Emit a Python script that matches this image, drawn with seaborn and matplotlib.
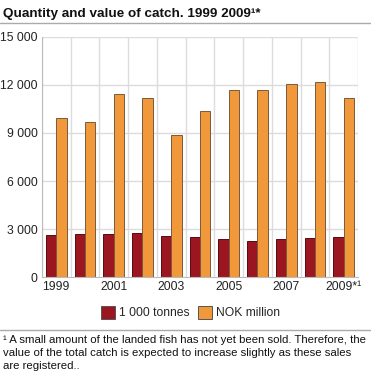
import matplotlib.pyplot as plt
import matplotlib.ticker as ticker
from matplotlib.lines import Line2D
from matplotlib.patches import Patch
import pandas as pd
import seaborn as sns

years = ["1999", "2000", "2001", "2002", "2003", "2004", "2005", "2006", "2007", "2008", "2009"]
year_labels = ["1999", "", "2001", "", "2003", "", "2005", "", "2007", "", "2009*¹"]
tonnes = [2630, 2710, 2690, 2730, 2545, 2525, 2400, 2275, 2400, 2440, 2525]
nok = [9920, 9710, 11410, 11160, 8850, 10400, 11660, 11660, 12040, 12170, 11160]
series = ["1 000 tonnes", "NOK million"]

df = pd.DataFrame(
    {
        "year": years * 2,
        "value": tonnes + nok,
        "kind": [series[0]] * len(years) + [series[1]] * len(years),
    }
)

sns.set_style("white")
plt.rcParams["font.family"] = ["Liberation Sans", "DejaVu Sans"]

fig = plt.figure(figsize=(3.71, 3.76), dpi=100)
ax = fig.add_axes([0.113, 0.263, 0.852, 0.639])

colors = {series[0]: "#9b1620", series[1]: "#f0983a"}
sns.barplot(
    data=df,
    x="year",
    y="value",
    hue="kind",
    palette=colors,
    saturation=1,
    width=0.72,
    gap=0,
    ax=ax,
    legend=False,
)
for bar in ax.patches[: len(years)]:
    bar.set_edgecolor("#5a0a10")
    bar.set_linewidth(0.7)
for bar in ax.patches[len(years):]:
    bar.set_edgecolor("#7a5a3a")
    bar.set_linewidth(0.7)

ax.set_ylim(0, 15000)
ax.set_xlim(-0.5, len(years) - 0.5)
ax.yaxis.set_major_locator(ticker.MultipleLocator(3000))
ax.yaxis.set_major_formatter(ticker.FuncFormatter(lambda v, p: f"{int(v):,}".replace(",", " ")))
ax.set_xticks(range(len(years)))
ax.set_xticklabels(year_labels)
ax.set_xlabel("")
ax.set_ylabel("")
ax.tick_params(axis="both", length=0, labelsize=8.7, colors="#222222", pad=3)

# grid: horizontal at ticks, vertical between categories
for v in range(3000, 15001, 3000):
    ax.axhline(v, color="#dcdcdc", lw=1, zorder=0)
for i in range(len(years) + 1):
    ax.axvline(i - 0.5, color="#dcdcdc", lw=1, zorder=0)
for s in ["top", "right"]:
    ax.spines[s].set_visible(False)
ax.spines["left"].set_color("#bbbbbb")
ax.spines["bottom"].set_color("#bbbbbb")

fig.text(0.008, 0.963, "Quantity and value of catch. 1999 2009¹*", fontsize=9.7,
         fontweight="bold", va="center", ha="left", color="#111111")
fig.add_artist(Line2D([0, 1], [0.938, 0.938], color="#aaaaaa", lw=1))

handles = [Patch(facecolor=colors[s], edgecolor="#555555", lw=0.7) for s in series]
fig.legend(handles, series, loc="center", bbox_to_anchor=(0.513, 0.168), ncol=2,
           frameon=False, fontsize=8.7, handlelength=1.2, handleheight=1.2,
           handletextpad=0.3, columnspacing=0.7)

fig.add_artist(Line2D([0, 1], [0.122, 0.122], color="#aaaaaa", lw=1))
fig.text(0.008, 0.110,
         "¹ A small amount of the landed fish has not yet been sold. Therefore, the\n"
         "value of the total catch is expected to increase slightly as these sales\n"
         "are registered..",
         fontsize=8.2, va="top", ha="left", linespacing=1.38, color="#111111")

fig.savefig("out.png", dpi=100)
